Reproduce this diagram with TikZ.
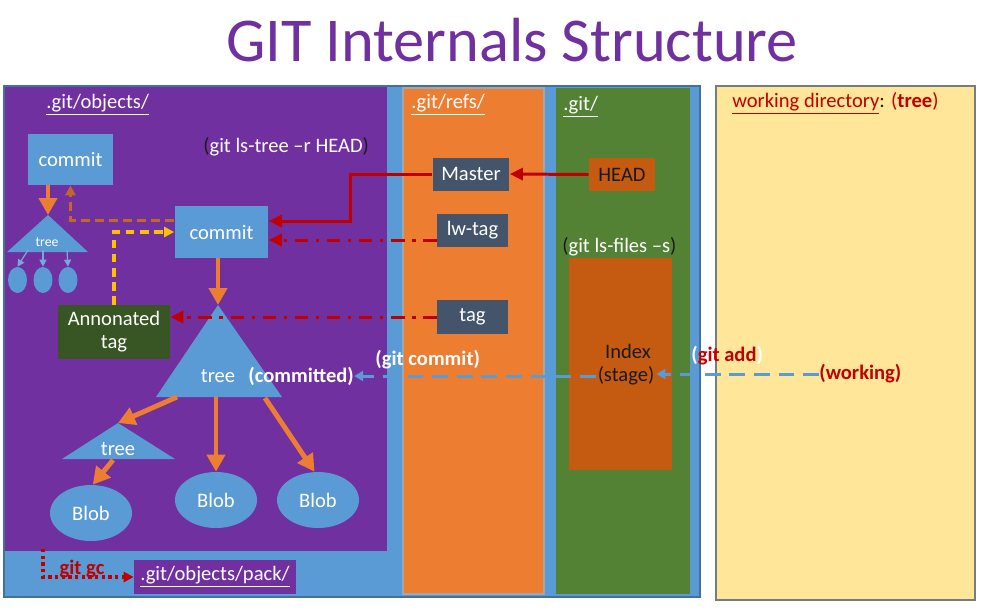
\documentclass[tikz,border=0pt]{standalone}
\usepackage{fontspec}
\setmainfont{Carlito}
\usetikzlibrary{positioning,arrows.meta,shapes.geometric,calc}
\definecolor{gitpurple}{HTML}{7030A0}
\definecolor{gitblue}{HTML}{5B9BD5}
\definecolor{gitorange}{HTML}{ED7D31}
\definecolor{gitgreen}{HTML}{548235}
\definecolor{gityellow}{HTML}{FFE699}
\definecolor{gitslate}{HTML}{44546A}
\definecolor{gitrust}{HTML}{C55A11}
\definecolor{gitforest}{HTML}{375623}
\definecolor{gitred}{HTML}{C00000}
\definecolor{gitgold}{HTML}{FFC000}
\definecolor{gitedge}{HTML}{41719C}
\definecolor{gitink}{HTML}{1A1A1A}
\newcommand\gitfont{\fontsize{11.7}{14}\selectfont}
\tikzset{
  panel/.style={draw=gitedge, line width=0.6pt},
  objbox/.style={fill=gitblue, text=white, align=center, inner sep=1pt},
  refbox/.style={fill=gitslate, text=white, inner sep=1pt},
  blobnode/.style={ellipse, fill=gitblue, text=white, inner sep=0pt, minimum width=1.64cm, minimum height=1.12cm},
  leafnode/.style={ellipse, fill=gitblue, inner sep=0pt, minimum width=0.38cm, minimum height=0.52cm},
  dirlabel/.style={text=white, anchor=west, inner sep=0pt},
  treefill/.style={fill=gitblue},
  treearrow/.style={-{Triangle[length=3.4mm,width=3.6mm]}, line width=2.8pt, gitorange},
  leafarrow/.style={-{Triangle[length=1.4mm,width=1.4mm]}, line width=0.7pt, gitblue!85!white},
  refarrow/.style={-{Triangle[length=2.6mm,width=2.4mm]}, line width=1.7pt, gitred},
  tagarrow/.style={refarrow, dash pattern=on 7.5pt off 4.5pt on 1.8pt off 4.5pt},
  stagearrow/.style={-{Triangle[length=1.8mm,width=2mm]}, line width=1.7pt, gitblue, dash pattern=on 9pt off 5pt},
  parentarrow/.style={-{Triangle[length=2mm,width=2mm]}, line width=1.7pt, gitorange!82!black, dash pattern=on 5pt off 3pt},
  annotarrow/.style={-{Triangle[length=2mm,width=2mm]}, line width=1.9pt, gitgold, dash pattern=on 5pt off 3pt},
  gcarrow/.style={-{Triangle[length=2mm,width=2mm]}, line width=1.8pt, gitred, dotted}
}
\begin{document}
\begin{tikzpicture}[x=0.02cm, y=-0.02cm, >=Latex, every node/.style={font=\gitfont}]
  \fill[white] (0,0) rectangle (990,613);
  \useasboundingbox (0,0) rectangle (990,613);
  \node[text=gitpurple, font=\fontsize{35.5}{40}\selectfont] (title) at (512,40) {GIT Internals Structure};

  % panels
  \path[panel, fill=gitblue] (4,86) rectangle (700,597);
  \fill[gitpurple] (5,87) rectangle (387,551);
  \path[panel, draw=gray!70, fill=gitorange] (403,88) rectangle (544,594);
  \fill[gitgreen] (556,88) rectangle (690,594);
  \path[panel, draw=gray!80!gitedge, fill=gityellow] (716,86) rectangle (975,600);

  \node[dirlabel] (objlbl) at (46,105) {\underline{.git/objects/}};
  \node[dirlabel] (refslbl) at (411,105) {\underline{.git/refs/}};
  \node[dirlabel] (gitlbl) at (563,107) {\underline{.git/}};
  \node[dirlabel] (lstree) at (203,147) {\textcolor{gitink}{(}git ls-tree –r HEAD\textcolor{gitink}{)}};
  \node[dirlabel] (lsfiles) at (562,247) {\textcolor{gitink}{(}git ls-files –s\textcolor{gitink}{)}};
  \node[dirlabel, text=gitred] (wdlbl) at (732,103) {\underline{working directory}\textcolor{gitink}{:} (\textbf{tree})};

  % object store
  \node[objbox, minimum width=1.7cm, minimum height=1.02cm] (commitold) at (70.5,159.5) {commit};
  \node[objbox, minimum width=1.88cm, minimum height=1.04cm] (commitnew) at (221.5,232) {commit};
  \node[objbox, fill=gitforest, minimum width=2.24cm, minimum height=1.08cm, inner sep=0pt] (annot) at (114,332) {Annonated\\[-1pt]tag};

  \coordinate (tinyapex) at (48,215);
  \fill[treefill] (tinyapex) -- (88,252) -- (7,252) -- cycle;
  \node[text=white, font=\fontsize{7.8}{9}\selectfont] (tinytree) at (47,242) {tree};
  \coordinate (smallapex) at (118,423);
  \fill[treefill] (smallapex) -- (175,459) -- (62,459) -- cycle;
  \node[text=white] (smalltree) at (118,449) {tree};
  \coordinate (bigapex) at (218,305);
  \fill[treefill] (bigapex) -- (282,397) -- (156,397) -- cycle;
  \node[text=white] (bigtree) at (218,376) {tree};
  \node[dirlabel, font=\gitfont\bfseries] (committed) at (248,376) {(committed)};

  \node[leafnode] (leafa) at (17.5,280) {};
  \node[leafnode] (leafb) at (43,280) {};
  \node[leafnode] (leafc) at (68,280) {};
  \node[blobnode] (blobleft) at (91,513) {Blob};
  \node[blobnode] (blobmid) at (216,500) {Blob};
  \node[blobnode] (blobright) at (318,500) {Blob};

  % refs and index
  \node[refbox, minimum width=1.54cm, minimum height=0.66cm] (master) at (471,174) {Master};
  \node[refbox, minimum width=1.42cm, minimum height=0.66cm] (lwtag) at (472.5,230.5) {lw-tag};
  \node[refbox, minimum width=1.42cm, minimum height=0.68cm] (tag) at (472.5,317) {tag\hspace{9pt}};
  \node[fill=gitrust, text=gitink, minimum width=1.32cm, minimum height=0.66cm, inner sep=1pt] (head) at (622,174.5) {HEAD};
  \node[fill=gitrust, minimum width=2.06cm, minimum height=4.24cm] (index) at (620.5,364) {};
  \node[text=gitink, inner sep=1pt] (indextxt) at (628,351) {Index};
  \node[text=gitink, inner sep=1pt] (stagetxt) at (626,376) {(stage)};

  \node[dirlabel, font=\gitfont\bfseries] (gitcommit) at (375,360) {(git commit)};
  \node[dirlabel, font=\gitfont\bfseries] (gitadd) at (691,356) {(\textcolor{gitred}{git add})};
  \node[dirlabel, text=gitred, font=\gitfont\bfseries] (working) at (819,374) {(working)};

  \coordinate (gcstart) at (43,549);
  \node[text=gitred, font=\gitfont\bfseries] (gctxt) at (82,569) {git gc};
  \node[fill=gitpurple, text=white, minimum width=3.24cm, minimum height=0.68cm, inner sep=1pt] (pack) at (215,577) {\underline{.git/objects/pack/}};

  % connectors
  \draw[treearrow] (commitold.south -| tinyapex) -- (tinyapex);
  \draw[treearrow] (commitnew.south -| bigapex) -- (bigapex);
  \draw[treearrow] (177,397) -- (smallapex);
  \draw[treearrow] (216,397) -- (blobmid.north);
  \draw[treearrow] (265,398) -- ([xshift=-2pt]blobright.north);
  \draw[treearrow] (113,460) -- ([xshift=1pt]blobleft.north);
  \draw[leafarrow] (28,250) -- (leafa.north);
  \draw[leafarrow] (43,250) -- (leafb.north);
  \draw[leafarrow] (67,250) -- (leafc.north);

  \draw[parentarrow] ([yshift=0.24cm]commitnew.west) -| (commitold.south);
  \draw[annotarrow] (annot.north) |- (commitnew.west);
  \draw[refarrow] (head.west) -- (master.east);
  \draw[refarrow] (master.west) -- ++(-82,0) |- ([yshift=0.22cm]commitnew.east);
  \draw[tagarrow] ([yshift=-0.19cm]lwtag.west) -- ([yshift=-0.19cm]lwtag.west -| commitnew.east);
  \draw[tagarrow] (tag.west) -- (tag.west -| annot.east);

  \draw[stagearrow] (working.west) -- (working.west -| stagetxt.east);
  \draw[stagearrow] (stagetxt.west) -- (stagetxt.west -| committed.east);
  \draw[gcarrow] (gcstart) |- (pack.west);
\end{tikzpicture}
\end{document}
